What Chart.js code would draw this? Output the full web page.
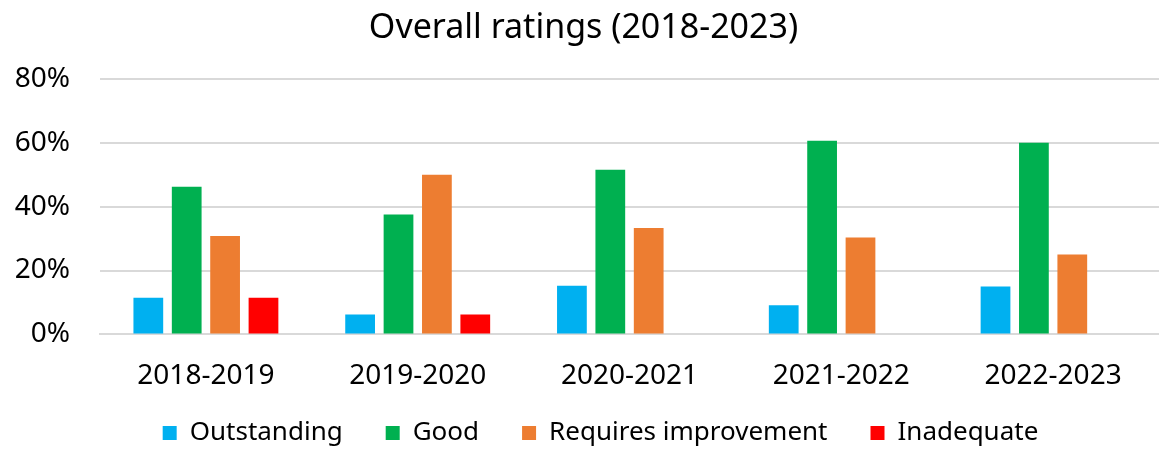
<!DOCTYPE html>
<html>
<head>
<meta charset="utf-8">
<script src="https://cdn.jsdelivr.net/npm/chart.js@4"></script>
<style>
  html, body { margin: 0; padding: 0; background: #fff; }
  #wrap { width: 1159px; height: 450px; }
</style>
</head>
<body>
<div id="wrap"><canvas id="chart"></canvas></div>
<script>
// 데이터
const years = ["2018-2019", "2019-2020", "2020-2021", "2021-2022", "2022-2023"];
const outstanding = [11.5, 6.25, 15.2, 9.1, 15];
const good = [46.2, 37.5, 51.5, 60.6, 60];
const requiresImprovement = [30.8, 50, 33.3, 30.3, 25];
const inadequate = [11.5, 6.25, 0, 0, 0];
const yTicks = [0, 20, 40, 60, 80];

const fontFamily = "'Noto Sans', sans-serif";

const mkSet = function(label, data, color) {
    return {
        label: label,
        data: data,
        backgroundColor: color,
        borderWidth: 0,
        categoryPercentage: 0.725,
        barPercentage: 0.775
    };
};

// 범례 위치 보정
const legendShift = {
    id: "legendShift",
    afterLayout: function(chart) {
        const lg = chart.legend;
        if (lg) {
            lg.top -= 41;
            lg.bottom -= 41;
            lg.left += 17;
            lg.right += 17;
        }
    }
};

new Chart(document.getElementById("chart"), {
    type: "bar",
    data: {
        labels: years,
        datasets: [
            mkSet("Outstanding", outstanding, "#00b0f0"),
            mkSet("Good", good, "#00b050"),
            mkSet("Requires improvement", requiresImprovement, "#ed7d31"),
            mkSet("Inadequate", inadequate, "#ff0000")
        ]
    },
    plugins: [legendShift],
    options: {
        responsive: true,
        maintainAspectRatio: false,
        animation: { duration: 0 },
        layout: { padding: { left: 0, right: -8, top: 0, bottom: -47 } },
        scales: {
            y: {
                min: 0,
                max: 80,
                afterBuildTicks: function(axis) {
                    axis.ticks = yTicks.map(v => ({ value: v }));
                },
                afterFit: function(axis) {
                    axis.width = 100;
                },
                ticks: {
                    color: "#000",
                    padding: 30,
                    font: { family: fontFamily, size: 28 },
                    callback: v => v + "%"
                },
                grid: { color: "#d9d9d9", lineWidth: 2, drawTicks: false },
                border: { display: false }
            },
            x: {
                ticks: {
                    color: "#000",
                    padding: 25,
                    font: { family: fontFamily, size: 28 }
                },
                grid: { display: false, drawTicks: false },
                border: { color: "#d9d9d9", width: 2 }
            }
        },
        plugins: {
            title: {
                display: true,
                text: "Overall ratings (2018-2023)",
                color: "#000",
                font: { family: fontFamily, size: 34, weight: "normal" },
                padding: { top: 8, bottom: 30 }
            },
            legend: {
                position: "bottom",
                labels: {
                    color: "#000",
                    boxWidth: 14,
                    boxHeight: 14,
                    padding: 43,
                    font: { family: fontFamily, size: 26 }
                }
            },
            tooltip: { enabled: false }
        }
    }
});
</script>
</body>
</html>
